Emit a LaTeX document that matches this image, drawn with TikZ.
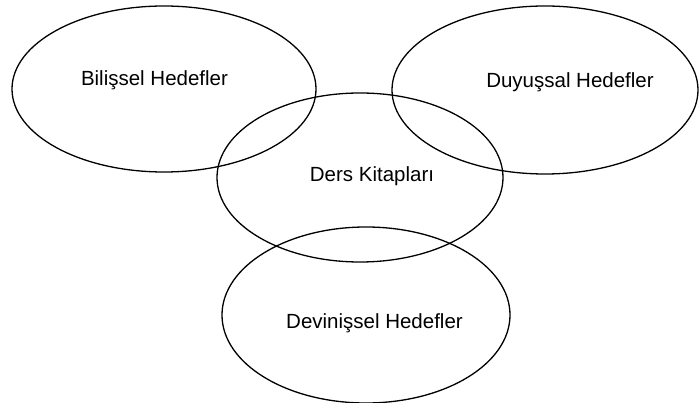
\documentclass[tikz,border=0pt]{standalone}
\usepackage{fontspec}
\setmainfont{Liberation Sans}
\usetikzlibrary{shapes.geometric}
\begin{document}
\begin{tikzpicture}[x=1pt,y=-1pt,
  oval/.style={draw=black,line width=1.3pt,ellipse,inner sep=0pt},
  lbl/.style={font=\fontsize{20.5}{24}\selectfont,inner sep=0pt,anchor=center}]
\useasboundingbox (0,0) rectangle (699,403);
\node[oval,minimum width=304pt,minimum height=166pt] (bil) at (164,89) {};
\node[oval,minimum width=306pt,minimum height=168pt] (duy) at (545,90) {};
\node[oval,minimum width=286pt,minimum height=169pt] (ders) at (360,177.5) {};
\node[oval,minimum width=288pt,minimum height=176pt] (dev) at (366,315) {};
\node[lbl] (tbil) at (154.5,80) {Bilişsel Hedefler};
\node[lbl] (tduy) at (570,82) {Duyuşsal Hedefler};
\node[lbl] (tders) at (372,176) {Ders Kitapları};
\node[lbl] (tdev) at (374.5,323) {Devinişsel Hedefler};
\end{tikzpicture}
\end{document}
